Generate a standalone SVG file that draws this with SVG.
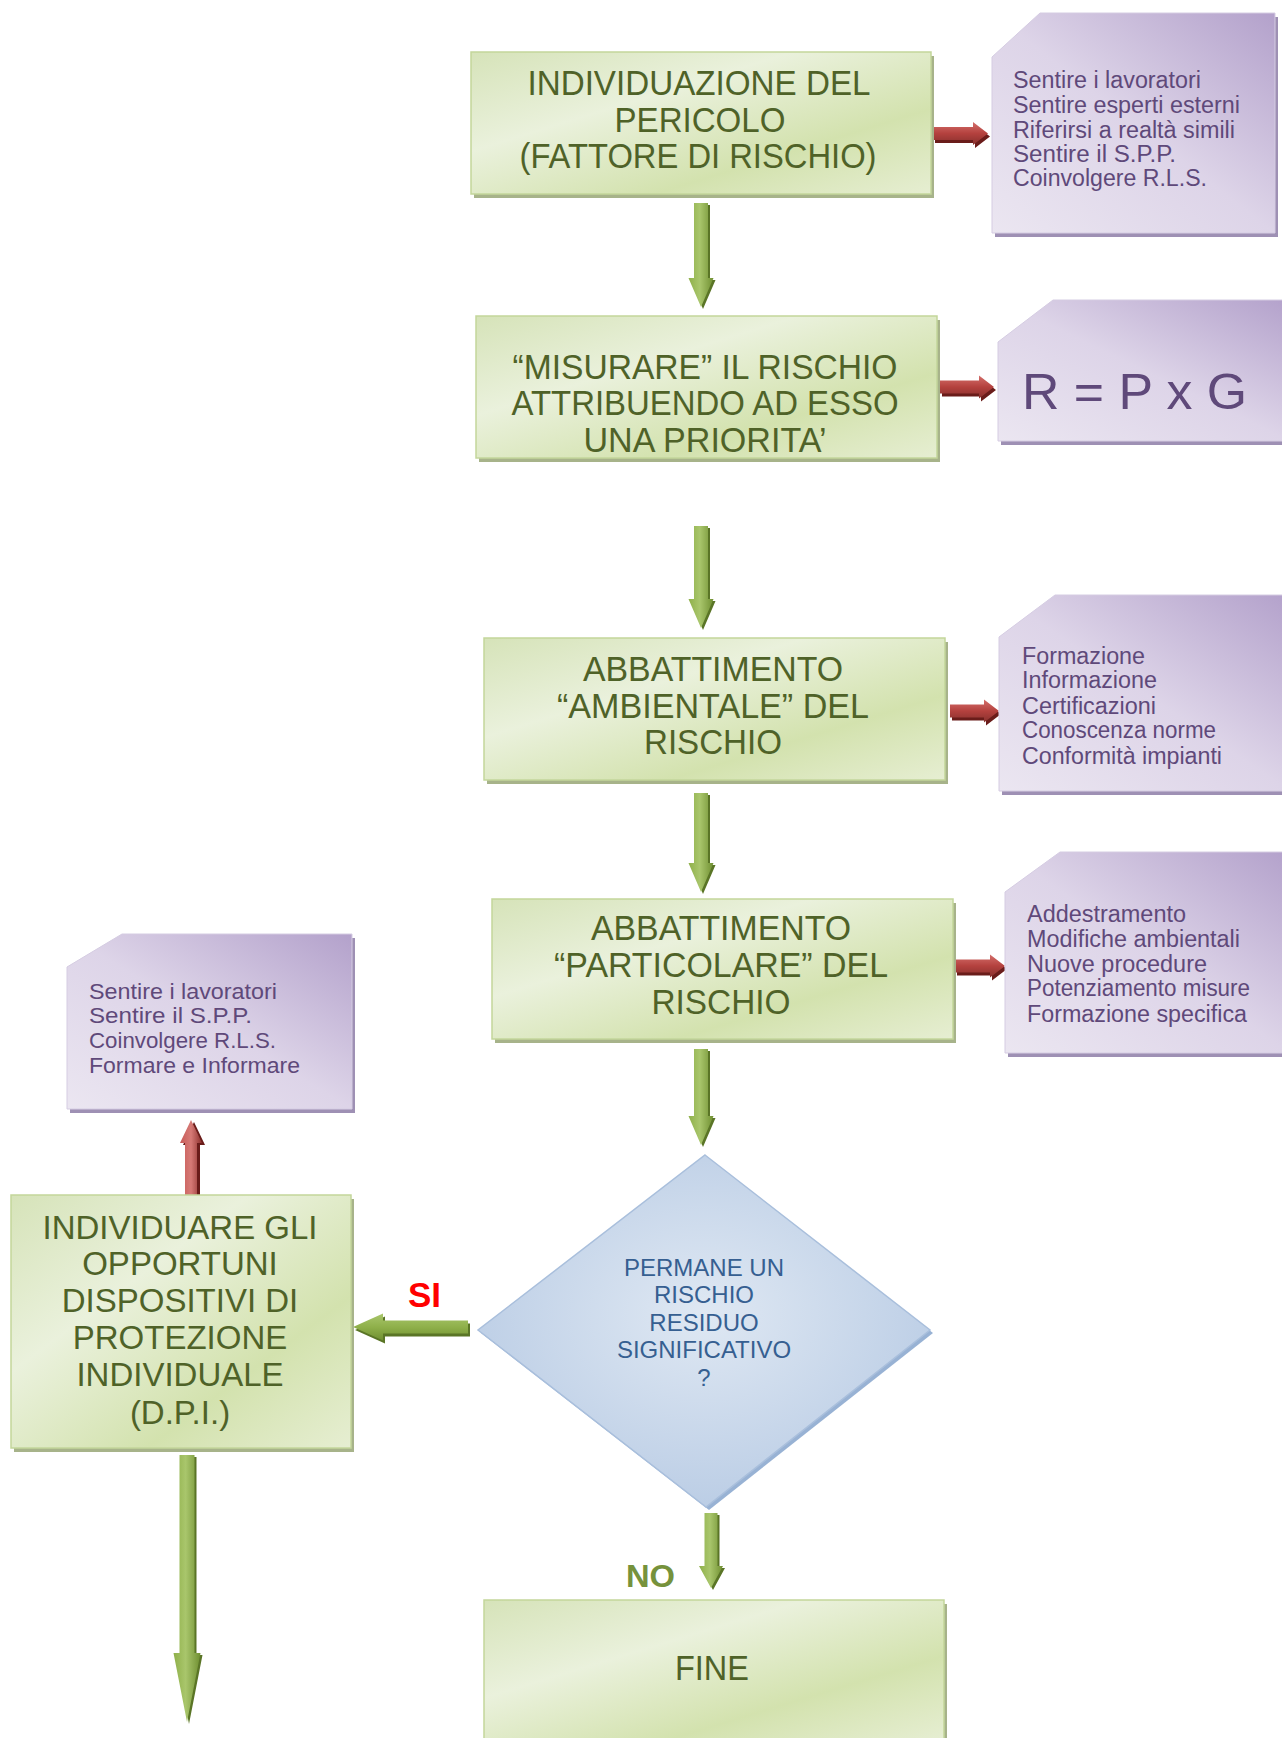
<svg xmlns="http://www.w3.org/2000/svg" width="1282" height="1738" viewBox="0 0 1282 1738">
<style>
.gbox{fill:url(#gGreen);stroke:#c3d69b;stroke-width:1.5}
.gsh{fill:#a7b38a}
.pbox{fill:url(#gPurple);stroke:#d5cce2;stroke-width:1}
.psh{fill:#9e90b4}
.bt{font-family:"Liberation Sans",Arial,sans-serif;font-size:35px;fill:#4f6228;text-anchor:middle}
.dt{font-family:"Liberation Sans",Arial,sans-serif;font-size:33px;fill:#4f6228;text-anchor:middle}
.pt{font-family:"Liberation Sans",Arial,sans-serif;font-size:23.5px;fill:#5f497a}
.pt5{font-family:"Liberation Sans",Arial,sans-serif;font-size:22px;fill:#5f497a}
.qt{font-family:"Liberation Sans",Arial,sans-serif;font-size:24px;fill:#365f91;text-anchor:middle}
.garr{fill:url(#gArrV)}
.garrh{fill:url(#gArrH)}
.gsha{fill:#5a7526}
.rarr{fill:url(#gRed)}
.rarrv{fill:url(#gRedV)}
.rsha{fill:#6a1c1a}
</style>
<defs>
<linearGradient id="gGreen" x1="0" y1="0" x2="1" y2="1">
<stop offset="0" stop-color="#d6e3b9"/>
<stop offset="0.35" stop-color="#eaf1dc"/>
<stop offset="0.7" stop-color="#d3e2ae"/>
<stop offset="1" stop-color="#e6eed2"/>
</linearGradient>
<linearGradient id="gPurple" x1="0" y1="1" x2="1" y2="0">
<stop offset="0" stop-color="#ebe6f1"/>
<stop offset="0.5" stop-color="#ddd4e8"/>
<stop offset="1" stop-color="#b3a1cb"/>
</linearGradient>
<radialGradient id="gBlue" cx="0.5" cy="0.45" r="0.6">
<stop offset="0" stop-color="#dfe8f3"/>
<stop offset="1" stop-color="#b8cbe4"/>
</radialGradient>
<linearGradient id="gArrV" x1="0" y1="0" x2="1" y2="0">
<stop offset="0" stop-color="#8fb04a"/>
<stop offset="0.45" stop-color="#a9c66c"/>
<stop offset="1" stop-color="#6f8f31"/>
</linearGradient>
<linearGradient id="gArrH" x1="0" y1="0" x2="0" y2="1">
<stop offset="0" stop-color="#a9c66c"/>
<stop offset="0.5" stop-color="#8fb04a"/>
<stop offset="1" stop-color="#6f8f31"/>
</linearGradient>
<linearGradient id="gRed" x1="0" y1="0" x2="0" y2="1">
<stop offset="0" stop-color="#d46f6b"/>
<stop offset="0.5" stop-color="#b4413e"/>
<stop offset="1" stop-color="#86302d"/>
</linearGradient>
<linearGradient id="gRedV" x1="0" y1="0" x2="1" y2="0">
<stop offset="0" stop-color="#c85a57"/>
<stop offset="0.5" stop-color="#d67a76"/>
<stop offset="1" stop-color="#8c2f2c"/>
</linearGradient>
</defs>
<rect width="1282" height="1738" fill="#ffffff"/>

<g id="connectors">
<polygon class="gsha" points="697,205 710,205 710,280 715.5,280 703,309 690.5,280 697,280"/>
<polygon class="garr" points="694,203 708,203 708,278 713.5,278 701,307 688.5,278 694,278"/>
<polygon class="gsha" points="697,528 710,528 710,601 715.5,601 703,630 690.5,601 697,601"/>
<polygon class="garr" points="694,526 708,526 708,599 713.5,599 701,628 688.5,599 694,599"/>
<polygon class="gsha" points="697,795 710,795 710,865 715.5,865 703,894 690.5,865 697,865"/>
<polygon class="garr" points="694,793 708,793 708,863 713.5,863 701,892 688.5,863 694,863"/>
<polygon class="gsha" points="697,1051 710,1051 710,1118 715.5,1118 703,1147 690.5,1118 697,1118"/>
<polygon class="garr" points="694,1049 708,1049 708,1116 713.5,1116 701,1145 688.5,1116 694,1116"/>
<polygon class="gsha" points="707,1515 719.5,1515 719.5,1568 725,1568 713,1590 701,1568 707,1568"/>
<polygon class="garr" points="704.5,1513 717.5,1513 717.5,1566 723,1566 711,1588 699,1566 704.5,1566"/>
<polygon class="gsha" points="182,1457 196.5,1457 196.5,1655 202.5,1655 189,1724 175.5,1655 182,1655"/>
<polygon class="garr" points="179.5,1455 194.5,1455 194.5,1653 200.5,1653 187,1722 173.5,1653 179.5,1653"/>
<polygon class="gsha" points="470,1323.5 470,1336.5 385,1336.5 385,1343.5 355,1330 385,1316.5 385,1323.5"/>
<polygon class="garrh" points="468,1320.5 468,1333.5 383,1333.5 383,1340.5 353,1327 383,1313.5 383,1320.5"/>
<polygon class="rsha" points="935,130 975,130 975,125 990,136.5 975,148 975,143 935,143"/>
<polygon class="rarr" points="933,127 973,127 973,122 988,133.5 973,145 973,140 933,140"/>
<polygon class="rsha" points="942,383.5 981,383.5 981,378.5 996,390 981,401.5 981,396.5 942,396.5"/>
<polygon class="rarr" points="940,380.5 979,380.5 979,375.5 994,387 979,398.5 979,393.5 940,393.5"/>
<polygon class="rsha" points="952,707.5 986,707.5 986,702.5 1001,714 986,725.5 986,720.5 952,720.5"/>
<polygon class="rarr" points="950,704.5 984,704.5 984,699.5 999,711 984,722.5 984,717.5 950,717.5"/>
<polygon class="rsha" points="957,962.5 992,962.5 992,957.5 1007,969 992,980.5 992,975.5 957,975.5"/>
<polygon class="rarr" points="955,959.5 990,959.5 990,954.5 1005,966 990,977.5 990,972.5 955,972.5"/>
<polygon class="rsha" points="188,1195 200,1195 200,1145 205,1145 194,1122 183,1145 188,1145"/>
<polygon class="rarrv" points="185,1195 197,1195 197,1143 202,1143 191,1120 180,1143 185,1143"/>
<text x="408" y="1307" font-family="Liberation Sans, Arial, sans-serif" font-size="35" font-weight="bold" fill="#ff0000">SI</text>
<text x="626" y="1587" font-family="Liberation Sans, Arial, sans-serif" font-size="31" font-weight="bold" fill="#76923c" textLength="49" lengthAdjust="spacingAndGlyphs">NO</text>
</g>

<g id="node-individuazione">
<rect class="gsh" x="474" y="56" width="460" height="142"/>
<rect class="gbox" x="471" y="52" width="460" height="142"/>
<text class="bt" x="699" y="95" textLength="343" lengthAdjust="spacingAndGlyphs">INDIVIDUAZIONE DEL</text>
<text class="bt" x="700" y="132" textLength="171" lengthAdjust="spacingAndGlyphs">PERICOLO</text>
<text class="bt" x="698" y="168" textLength="357" lengthAdjust="spacingAndGlyphs">(FATTORE DI RISCHIO)</text>
</g>

<g id="node-misurare">
<rect class="gsh" x="479" y="320" width="461" height="142"/>
<rect class="gbox" x="476" y="316" width="461" height="142"/>
<text class="bt" x="705" y="379" textLength="385" lengthAdjust="spacingAndGlyphs">“MISURARE” IL RISCHIO</text>
<text class="bt" x="705" y="415" textLength="387" lengthAdjust="spacingAndGlyphs">ATTRIBUENDO AD ESSO</text>
<text class="bt" x="705" y="452" textLength="243" lengthAdjust="spacingAndGlyphs">UNA PRIORITA’</text>
</g>

<g id="node-ambientale">
<rect class="gsh" x="487" y="642" width="461" height="142"/>
<rect class="gbox" x="484" y="638" width="461" height="142"/>
<text class="bt" x="713" y="681" textLength="260" lengthAdjust="spacingAndGlyphs">ABBATTIMENTO</text>
<text class="bt" x="713" y="718" textLength="312" lengthAdjust="spacingAndGlyphs">“AMBIENTALE” DEL</text>
<text class="bt" x="713" y="754" textLength="138" lengthAdjust="spacingAndGlyphs">RISCHIO</text>
</g>

<g id="node-particolare">
<rect class="gsh" x="495" y="903" width="461" height="140"/>
<rect class="gbox" x="492" y="899" width="461" height="140"/>
<text class="bt" x="721" y="940" textLength="260" lengthAdjust="spacingAndGlyphs">ABBATTIMENTO</text>
<text class="bt" x="721" y="977" textLength="334" lengthAdjust="spacingAndGlyphs">“PARTICOLARE” DEL</text>
<text class="bt" x="721" y="1014" textLength="139" lengthAdjust="spacingAndGlyphs">RISCHIO</text>
</g>

<g id="node-fine">
<rect class="gsh" x="487" y="1604" width="460" height="140"/>
<rect class="gbox" x="484" y="1600" width="460" height="140"/>
<text class="bt" x="712" y="1680" textLength="74" lengthAdjust="spacingAndGlyphs">FINE</text>
</g>

<g id="node-dpi">
<rect class="gsh" x="14" y="1199" width="340" height="253"/>
<rect class="gbox" x="11" y="1195" width="340" height="253"/>
<text class="dt" x="180" y="1239">INDIVIDUARE GLI</text>
<text class="dt" x="180" y="1275">OPPORTUNI</text>
<text class="dt" x="180" y="1312">DISPOSITIVI DI</text>
<text class="dt" x="180" y="1349">PROTEZIONE</text>
<text class="dt" x="180" y="1386">INDIVIDUALE</text>
<text class="dt" x="180" y="1424">(D.P.I.)</text>
</g>

<g id="node-decisione">
<polygon points="707,1158 933,1333 709,1510 481,1333" fill="#98b2d4"/>
<polygon points="705,1155 930,1330 706,1507 478,1330" fill="url(#gBlue)" stroke="#a9bfdc" stroke-width="1.5"/>
<text class="qt" x="704" y="1276">PERMANE UN</text>
<text class="qt" x="704" y="1303">RISCHIO</text>
<text class="qt" x="704" y="1331">RESIDUO</text>
<text class="qt" x="704" y="1358">SIGNIFICATIVO</text>
<text class="qt" x="704" y="1386">?</text>
</g>

<g id="note-individuazione">
<polygon class="psh" points="1043,17 1278,17 1278,237 995,237 995,61"/>
<polygon class="pbox" points="1040,13 1275,13 1275,233 992,233 992,57"/>
<text class="pt" x="1013" y="88" textLength="188" lengthAdjust="spacingAndGlyphs">Sentire i lavoratori</text>
<text class="pt" x="1013" y="113" textLength="227" lengthAdjust="spacingAndGlyphs">Sentire esperti esterni</text>
<text class="pt" x="1013" y="138" textLength="222" lengthAdjust="spacingAndGlyphs">Riferirsi a realtà simili</text>
<text class="pt" x="1013" y="162" textLength="163" lengthAdjust="spacingAndGlyphs">Sentire il S.P.P.</text>
<text class="pt" x="1013" y="186" textLength="194" lengthAdjust="spacingAndGlyphs">Coinvolgere R.L.S.</text>
</g>

<g id="note-formula">
<polygon class="psh" points="1056,304 1293,304 1293,445 1001,445 1001,346"/>
<polygon class="pbox" points="1053,300 1290,300 1290,441 998,441 998,342"/>
<text x="1022" y="409" font-family="Liberation Sans, Arial, sans-serif" font-size="50" fill="#5f497a" textLength="225" lengthAdjust="spacingAndGlyphs">R = P x G</text>
</g>

<g id="note-ambientale">
<polygon class="psh" points="1058,599 1293,599 1293,795 1002,795 1002,641"/>
<polygon class="pbox" points="1055,595 1290,595 1290,791 999,791 999,637"/>
<text class="pt" x="1022" y="664" textLength="123" lengthAdjust="spacingAndGlyphs">Formazione</text>
<text class="pt" x="1022" y="688" textLength="135" lengthAdjust="spacingAndGlyphs">Informazione</text>
<text class="pt" x="1022" y="714" textLength="134" lengthAdjust="spacingAndGlyphs">Certificazioni</text>
<text class="pt" x="1022" y="738" textLength="194" lengthAdjust="spacingAndGlyphs">Conoscenza norme</text>
<text class="pt" x="1022" y="764" textLength="200" lengthAdjust="spacingAndGlyphs">Conformità impianti</text>
</g>

<g id="note-particolare">
<polygon class="psh" points="1063,856 1293,856 1293,1057 1008,1057 1008,896"/>
<polygon class="pbox" points="1060,852 1290,852 1290,1053 1005,1053 1005,892"/>
<text class="pt" x="1027" y="922" textLength="159" lengthAdjust="spacingAndGlyphs">Addestramento</text>
<text class="pt" x="1027" y="947" textLength="213" lengthAdjust="spacingAndGlyphs">Modifiche ambientali</text>
<text class="pt" x="1027" y="972" textLength="180" lengthAdjust="spacingAndGlyphs">Nuove procedure</text>
<text class="pt" x="1027" y="996" textLength="223" lengthAdjust="spacingAndGlyphs">Potenziamento misure</text>
<text class="pt" x="1027" y="1022" textLength="220" lengthAdjust="spacingAndGlyphs">Formazione specifica</text>
</g>

<g id="note-dpi">
<polygon class="psh" points="125,938 355,938 355,1113 70,1113 70,971"/>
<polygon class="pbox" points="122,934 352,934 352,1109 67,1109 67,967"/>
<text class="pt5" x="89" y="999" textLength="188" lengthAdjust="spacingAndGlyphs">Sentire i lavoratori</text>
<text class="pt5" x="89" y="1023" textLength="163" lengthAdjust="spacingAndGlyphs">Sentire il S.P.P.</text>
<text class="pt5" x="89" y="1048" textLength="187" lengthAdjust="spacingAndGlyphs">Coinvolgere R.L.S.</text>
<text class="pt5" x="89" y="1073" textLength="211" lengthAdjust="spacingAndGlyphs">Formare e Informare</text>
</g>
</svg>
